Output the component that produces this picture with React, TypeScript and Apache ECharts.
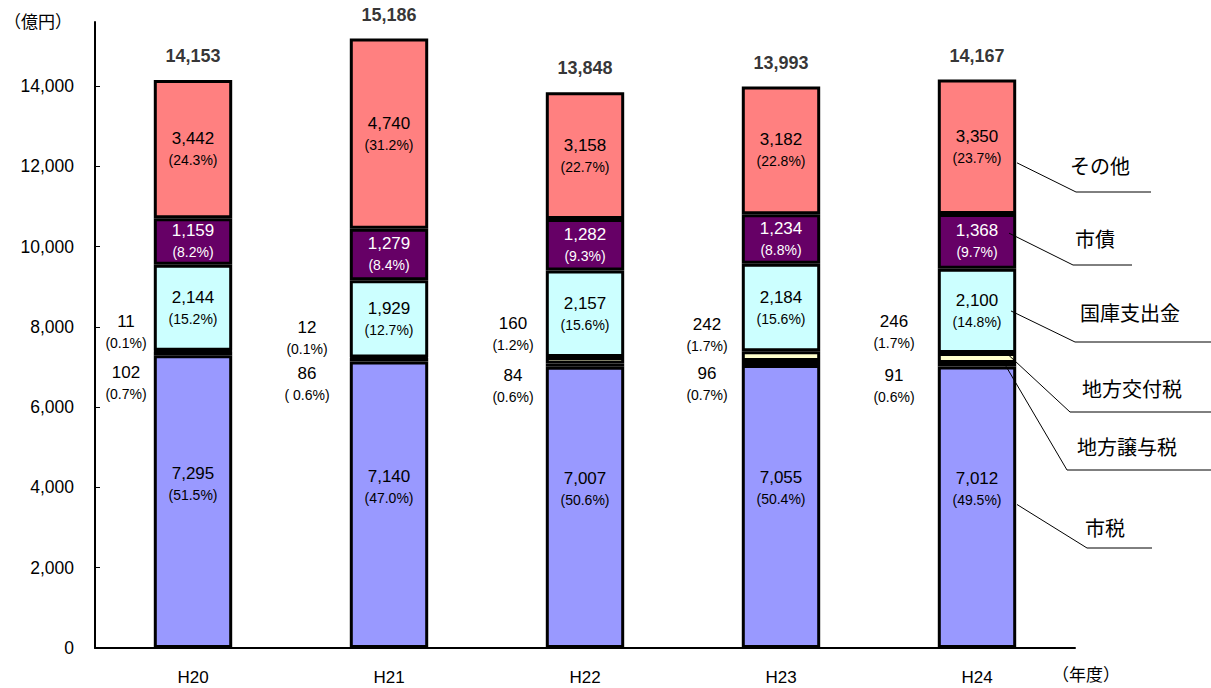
import React, { useEffect, useRef } from 'react';
import * as echarts from 'echarts';

const categories = ['H20', 'H21', 'H22', 'H23', 'H24'];
const seriesNames = ['市税', '地方譲与税', '地方交付税', '国庫支出金', '市債', 'その他'];
const shizei = [7295, 7140, 7007, 7055, 7012];
const jouyo = [102, 86, 84, 96, 91];
const koufu = [11, 12, 160, 242, 246];
const kokko = [2144, 1929, 2157, 2184, 2100];
const shisai = [1159, 1279, 1282, 1234, 1368];
const sonota = [3442, 4740, 3158, 3182, 3350];
const totals = [14153, 15186, 13848, 13993, 14167];
const pShizei = ['51.5', '47.0', '50.6', '50.4', '49.5'];
const pJouyo = ['0.7', ' 0.6', '0.6', '0.7', '0.6'];
const pKoufu = ['0.1', '0.1', '1.2', '1.7', '1.7'];
const pKokko = ['15.2', '12.7', '15.6', '15.6', '14.8'];
const pShisai = ['8.2', '8.4', '9.3', '8.8', '9.7'];
const pSonota = ['24.3', '31.2', '22.7', '22.8', '23.7'];
const yTicks = [0, 2000, 4000, 6000, 8000, 10000, 12000, 14000];

const values = [shizei, jouyo, koufu, kokko, shisai, sonota];
const percents = [pShizei, pJouyo, pKoufu, pKokko, pShisai, pSonota];
const colors = ['#9999FF', '#000000', '#FFFFCC', '#CCFFFF', '#660066', '#FF8080'];
const labelColors = ['#000', '#000', '#000', '#000', '#fff', '#000'];

const FONT = "'Liberation Sans', Arial, 'Noto Sans CJK JP', sans-serif";
const JFONT = "'Noto Sans CJK JP', 'Liberation Sans', sans-serif";

// layout offsets for the small outside labels
const leftDx = [-67, -82, -72, -74, -83];
const jouyoDy = [30, 24, 21, 21, 21];
const koufuDy = [-19, -20, -26, -21, -26];

const fmt = (n: number) => n.toLocaleString('en-US');

export default function App() {
  const ref = useRef<HTMLDivElement>(null);
  useEffect(() => {
    if (!ref.current) return;
    const chart = echarts.init(ref.current, undefined, { renderer: 'svg' });

    const series: any[] = values.map((arr, k) => ({
      name: seriesNames[k],
      type: 'bar',
      stack: 'total',
      barWidth: '40%',
      itemStyle: { color: colors[k], borderColor: '#000', borderWidth: 3 },
      data: arr.map((v, i) => {
        const small = k === 1 || k === 2;
        let offset = [0, 0];
        if (k === 0) offset = [0, -18];
        if (k === 1) offset = [leftDx[i], jouyoDy[i]];
        if (k === 2) offset = [leftDx[i], koufuDy[i]];
        return {
          value: v,
          label: {
            show: true,
            position: 'inside',
            offset,
            formatter: `{v|${fmt(v)}}\n{p|(${percents[k][i]}%)}`,
            rich: {
              v: { fontSize: 17, lineHeight: 22, color: small ? '#000' : labelColors[k], fontFamily: FONT, align: 'center' },
              p: { fontSize: 14, lineHeight: 21, color: small ? '#000' : labelColors[k], fontFamily: FONT, align: 'center' },
            },
          },
        };
      }),
    }));

    series.push({
      name: '合計',
      type: 'scatter',
      symbolSize: 0,
      data: totals,
      silent: true,
      label: {
        show: true,
        position: 'top',
        distance: 15,
        formatter: (p: any) => fmt(p.value),
        fontSize: 18,
        fontWeight: 'bold',
        color: '#000',
        fontFamily: FONT,
      },
    });

    chart.setOption({
      animation: false,
      grid: { left: 95, right: 136, top: 22, bottom: 40, containLabel: false },
      xAxis: {
        type: 'category',
        data: categories,
        axisLine: { lineStyle: { color: '#000', width: 2 } },
        axisTick: { show: false },
        axisLabel: { color: '#000', fontSize: 17, margin: 21, fontFamily: FONT },
      },
      yAxis: {
        type: 'value',
        min: 0,
        max: 15600,
        interval: 2000,
        splitLine: { show: false },
        axisLine: { show: true, lineStyle: { color: '#000', width: 2 } },
        axisTick: { show: true, inside: true, length: 5, lineStyle: { color: '#000' }, customValues: yTicks },
        axisLabel: {
          color: '#000', fontSize: 17.5, margin: 21, fontFamily: FONT,
          customValues: yTicks,
          formatter: (v: number) => fmt(v),
        },
      },
      series,
    });

    // annotation callouts for the last bar
    const anchorFrac = [0.51, 0.1, 0.76, 0.5, 0.65, 0.38];
    const startDx = [40, 29, 32, 34, 32, 40];
    const bends = [[1087, 548], [1067, 470], [1070, 412], [1075, 342], [1073, 265], [1076, 192]];
    const ends = [1152, 1211, 1211, 1211, 1132, 1151];
    const textPos = [[1085, 527], [1077, 446], [1082, 388], [1080, 312], [1075, 238], [1070, 165]];
    const last = categories.length - 1;
    const graphic: any[] = [];
    let base = 0;
    values.forEach((arr, k) => {
      const v = base + anchorFrac[k] * arr[last];
      base += arr[last];
      const p = chart.convertToPixel({ gridIndex: 0 }, [last, v]) as number[];
      graphic.push({
        type: 'polyline',
        silent: true,
        shape: { points: [[p[0] + startDx[k], p[1]], bends[k], [ends[k], bends[k][1]]] },
        style: { stroke: '#000', lineWidth: 1, fill: null },
        z: 10,
      });
      graphic.push({
        type: 'text',
        silent: true,
        x: textPos[k][0],
        y: textPos[k][1],
        style: { text: seriesNames[k], fontSize: 20, fontFamily: JFONT, fill: '#000', verticalAlign: 'middle', align: 'left' },
        z: 10,
      });
    });
    graphic.push({
      type: 'text', silent: true, x: 4, y: 20,
      style: { text: '（億円）', fontSize: 17, fontFamily: JFONT, fill: '#000', verticalAlign: 'middle', align: 'left' },
    });
    graphic.push({
      type: 'text', silent: true, x: 1052, y: 673,
      style: { text: '（年度）', fontSize: 17, fontFamily: JFONT, fill: '#000', verticalAlign: 'middle', align: 'left' },
    });
    chart.setOption({ graphic });

    return () => chart.dispose();
  }, []);

  return <div ref={ref} style={{ position: 'fixed', left: 0, top: 0, width: 1211, height: 688, background: '#fff' }} />;
}
